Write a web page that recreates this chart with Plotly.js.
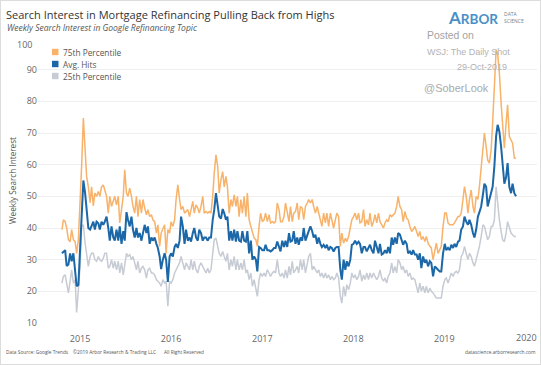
<!DOCTYPE html>
<html>
<head>
<meta charset="utf-8">
<script src="https://cdn.plot.ly/plotly-3.0.1.min.js"></script>
<style>
  html, body { margin: 0; padding: 0; background: #fff; }
  #wrap { position: relative; width: 541px; height: 365px; }
  #chart { width: 541px; height: 365px; }
  #frame { position: absolute; left: 0; top: 0; width: 539px; height: 363px; border: 1px solid #dcdcdc; pointer-events: none; }
</style>
</head>
<body>
<div id="wrap"><div id="chart"></div><div id="frame"></div></div>
<script>
// ---- Data ----
const firstWeek = '2014-10-20';
const lastWeek = '2019-10-16';

const avgHits = [
  32, 32.5, 33, 28, 28.5, 32, 29.5, 32, 26, 21.6,
  22, 34, 46, 55, 51, 44.7, 40, 39.5, 40.5, 42,
  39.5, 42, 41.5, 39.5, 42, 41, 42, 43.6, 40, 36,
  40.5, 37, 36, 39.5, 36, 40.5, 35, 39, 36, 45,
  42.6, 40.5, 43.6, 39.5, 37, 40, 37, 38.4, 36, 39,
  41, 38.4, 40.5, 35, 37, 36, 37, 35, 33.7, 31,
  27, 30, 32, 30, 23, 31, 32, 31, 34, 35,
  33.7, 36, 43.6, 40.5, 35, 39.5, 36, 37, 35.7, 38.4,
  40, 37, 36, 39.5, 38.4, 36, 37, 37, 36, 37,
  37, 42.6, 45.7, 51, 47, 43.6, 43, 46, 44.7, 42.6,
  43.6, 36, 39, 36, 39.5, 35.7, 39, 36, 35.7, 39,
  36, 35.7, 39, 32, 36, 30, 31, 30, 26.3, 34,
  33.7, 33, 33, 34.7, 33, 33, 32.6, 33, 33.7, 33.7,
  35.7, 33.7,
  32.6, 36, 34, 36, 34, 38.4, 35.7, 36, 39, 35,
  37, 34.7, 37, 36, 40, 36, 37.9, 39, 40.5, 39,
  37, 37.9, 35, 37, 35, 34, 34.7, 33.7, 34.7, 33,
  34, 33.7, 32.6, 33.7, 34, 34, 26.8, 23.7, 30, 26.8,
  29.5, 27.9, 30, 34.7, 35, 36, 35, 35.7, 35, 32,
  34, 34, 32.6, 33.7, 34.7, 33, 32, 36, 33.7, 32,
  35, 31.6, 32, 33, 32, 34, 32, 37, 34.7, 37,
  35, 38.4, 37.9, 36, 34.7, 36, 35, 32, 32.6, 31.6,
  33, 31.6, 31.6, 30, 32, 27.3, 31, 29, 30, 27.9,
  29.5, 29, 24.7, 27.9, 27.3, 26.8, 26.3, 26.3, 32, 35,
  33, 33.7, 33, 34.7, 33.7, 35, 34, 35.7, 36, 39.5,
  40.5, 43.6, 42, 41, 42.6, 41, 38.4, 37, 39.5, 43.6,
  45, 46.8, 50.5, 54, 53, 46.8, 49, 51, 53, 59.5,
  69, 72.6, 70.5, 65.7, 59.5, 54, 56, 60.5, 53, 51,
  54, 51, 50
];

const pct75 = [
  39.5, 42.6, 42, 40, 36.3, 35.7, 39.5, 36.3, 35.7, 32,
  36.3, 46.8, 59.5, 74.7, 64.7, 56.3, 53, 48, 53, 47,
  51, 50, 51.5, 50, 53, 53.6, 52, 50, 44.7, 50,
  46.8, 49, 50, 47.3, 50, 41.6, 46.3, 50, 58.4, 51,
  50, 52.6, 50, 46.8, 44.7, 50, 43.6, 49, 44.7, 49,
  46.3, 44.2, 45.8, 43.6, 44.2, 42.6, 42, 38.4, 41, 34.2,
  38.4, 39.5, 41, 32, 39.5, 38.4, 42, 40.5, 42.6, 49,
  53.6, 49, 45.8, 46.8, 44.7, 45.2, 45.8, 43.6, 45.8, 48.4,
  44.7, 47.3, 46.3, 44.7, 46.8, 50, 44.7, 45.2, 44.7, 45.2,
  44.7, 50, 57.3, 63.1, 59.4, 51, 55.2, 57.8, 53, 56.3,
  53, 44.7, 49, 46.8, 50.5, 46.8, 50, 43.6, 49, 44.7,
  50, 43.6, 51, 42.6, 40.5, 38.4, 36.8, 36.3, 34.2, 40.5,
  44.7, 42, 42.6, 44.7, 42, 44.2, 41.6, 42, 41.6, 42,
  47.9, 45.8,
  42, 42, 43.6, 47.9, 44.7, 42, 46.8, 42, 44.7, 45.2,
  47.9, 42.6, 46.8, 46.3, 42.6, 46.8, 47.9, 49, 47.9, 49,
  46.8, 44.7, 46.8, 44.7, 42, 40.5, 44.7, 41.6, 44.7, 40.5,
  44.7, 42, 40, 42.6, 44.7, 43.6, 34.2, 38.4, 35.2, 36.8,
  35.7, 37.3, 40.5, 42.6, 43.6, 44.7, 42.6, 44.7, 41.6, 42,
  45.8, 40.5, 42.6, 41, 44.7, 40.5, 42, 44.2, 41.6, 44.7,
  42, 41, 40, 41.6, 42.6, 42, 44.2, 43.6, 44.2, 44.7,
  46.8, 50, 46.8, 45.8, 42, 45.2, 43.1, 42.6, 40.5, 38.9,
  39.5, 40.5, 38.9, 37.3, 38.9, 36.3, 37.3, 35.7, 37.3, 35.2,
  34.2, 33.7, 30, 33.1, 35.2, 32, 33.1, 34.2, 40.5, 44.7,
  44.7, 41.6, 41, 41, 41, 41.6, 42.6, 43.6, 43.6, 44.7,
  49, 53.1, 50, 44.7, 49, 52, 46.8, 44.7, 50, 49,
  53.1, 58.4, 63.6, 70, 65.7, 61.5, 60.5, 64.7, 73.1, 85.7,
  96.2, 95.2, 88.9, 79.4, 72, 65.2, 73.1, 78.9, 68.9, 67.8,
  66.8, 62.1, 62.1
];

const pct25 = [
  22.6, 24.7, 25.2, 22.6, 19.5, 23.2, 26.8, 22.6, 23.7, 13.3,
  20, 27.9, 40.5, 41, 35.2, 31.6, 27.9, 31, 32, 32,
  30, 29.5, 31, 30, 29.5, 30.5, 32, 32, 27.3, 27.9,
  30, 27.3, 29.5, 26.8, 29.5, 25.8, 29, 25.2, 27.9, 32,
  31, 31.6, 30, 31, 29, 26.8, 29.5, 25.8, 27.3, 27.9,
  26.8, 24.2, 26.8, 27.3, 25.8, 25.8, 25.2, 23.7, 23.2, 22.6,
  21.6, 23.7, 22.6, 23.2, 15.3, 23.2, 22.6, 23.7, 25.8, 26.8,
  27.9, 29, 31, 29, 26.8, 29, 27.9, 26.8, 30, 26.8,
  29.5, 26.8, 25.8, 27.9, 29, 27.9, 26.8, 25.8, 27.3, 25.8,
  26.8, 31, 36.3, 36.8, 34.2, 32, 31, 32.6, 31, 29.5,
  32, 26.8, 30, 27.9, 31, 26.8, 30, 26.8, 29, 26.8,
  30, 25.8, 26.8, 23.7, 25.8, 21.6, 23.7, 20.5, 18.4, 23.7,
  25.8, 24.7, 25.8, 24.7, 26.8, 25.8, 24.7, 25.8, 26.3, 25.8,
  30, 25.8,
  24.7, 25.8, 24.2, 26.8, 24.2, 27.9, 25.2, 29.5, 25.8, 26.8,
  27.9, 25.8, 30, 26.8, 30, 25.8, 29, 31, 32, 26.8,
  27.9, 26.8, 25.8, 26.8, 24.7, 25.8, 24.2, 25.8, 24.2, 25.2,
  23.7, 24.7, 23.7, 24.2, 25.8, 24.2, 18.4, 16.3, 21.6, 18.4,
  22.1, 20.5, 22.6, 25.8, 24.2, 25.2, 23.7, 24.7, 26.8, 23.2,
  25.2, 23.7, 25.8, 23.7, 25.8, 24.2, 25.8, 24.7, 23.7, 24.7,
  26.8, 24.2, 23.2, 24.2, 22.6, 24.7, 25.8, 29, 25.8, 27.9,
  25.8, 30, 29, 26.8, 27.9, 25.8, 26.8, 24.7, 25.8, 23.7,
  24.2, 23.7, 21.6, 19.5, 22.6, 20, 21.6, 19.5, 21.6, 19.5,
  21, 20, 19.5, 18.4, 17.9, 17.9, 17.9, 17.9, 21.6, 23.7,
  24.2, 22.6, 24.2, 25.8, 24.7, 25.8, 26.3, 25.8, 26.8, 31,
  32, 34.2, 32, 30, 32, 31, 29, 27.9, 30, 32,
  34.2, 37.3, 41, 40.5, 38.4, 36.3, 37.3, 40.5, 40.5, 42.6,
  53, 48, 42.6, 38.9, 36.3, 35.7, 38.4, 42, 40.5, 38.4,
  37.9, 37.3, 37.3
];

const seriesNames = ['75th Percentile', 'Avg. Hits', '25th Percentile'];
const yearTickVals = ['2015-01-01', '2016-01-01', '2017-01-01', '2018-01-01', '2019-01-01'];
const yearTickText = ['2015', '2016', '2017', '2018', '2019'];
const lastYearLabel = '2020';
const yTickVals = [10, 20, 30, 40, 50, 60, 70, 80, 90, 100];
const yTickText = ['10', '20', '30', '40', '50', '60', '70', '80', '90', ''];
const topTickLabel = '100';

// ---- Build the x dates (sample periods evenly between first and last observation) ----
function periodDates(n) {
  const t0 = Date.parse(firstWeek), t1 = Date.parse(lastWeek);
  const out = [];
  for (let i = 0; i < n; i++) {
    const t = t0 + (t1 - t0) * i / (n - 1);
    out.push(new Date(t).toISOString().slice(0, 10));
  }
  return out;
}

// ---- Layout helpers (pixel -> paper) ----
const L = 38, T = 38, W = 499, H = 285;
const px = x => (x - L) / W;
const py = y => 1 - (y - T) / H;

const C_ORANGE = '#F8B269', C_BLUE = '#1B67A7', C_GRAY = '#C6CBD4';
const FONT = 'Open Sans, Noto Sans, sans-serif';
const ARIAL = 'Liberation Sans, Arial, sans-serif';

const traces = [
  { x: periodDates(pct25.length), y: pct25, name: seriesNames[2], type: 'scatter', mode: 'lines',
    line: { color: C_GRAY, width: 1.5 }, showlegend: false, hoverinfo: 'skip' },
  { x: periodDates(pct75.length), y: pct75, name: seriesNames[0], type: 'scatter', mode: 'lines',
    line: { color: C_ORANGE, width: 1.5 }, showlegend: false, hoverinfo: 'skip' },
  { x: periodDates(avgHits.length), y: avgHits, name: seriesNames[1], type: 'scatter', mode: 'lines',
    line: { color: C_BLUE, width: 2 }, showlegend: false, hoverinfo: 'skip' }
];

function ann(text, x, y, opts) {
  return Object.assign({ text: text, x: px(x), y: py(y), xref: 'paper', yref: 'paper',
    showarrow: false, xanchor: 'left', yanchor: 'middle', borderpad: 0,
    font: { family: FONT, size: 9, color: '#555' } }, opts || {});
}

const legendColors = [C_ORANGE, C_BLUE, C_GRAY];
const legendY = [52, 64, 76];
const FOOT = { family: FONT, size: 4.8, color: '#555' };

const annotations = [
  ann('<i>Weekly Search Interest in Google Refinancing Topic</i>', 6, 27, { font: { family: FONT, size: 8.5, color: '#555' } }),
  ann('<b><span style="font-size:17px">A</span>RBOR</b>', 447, 17.5, { font: { family: 'Lato, Open Sans, sans-serif', size: 13.5, color: '#4A90C6' } }),
  ann('DATA', 502.5, 14.5, { font: { family: FONT, size: 5, color: '#6F7F90' } }),
  ann('SCIENCE', 502.5, 21, { font: { family: FONT, size: 5, color: '#6F7F90' } }),
  ann('Posted on', 425.5, 35.5, { font: { family: ARIAL, size: 10.4, color: '#A3A3A3' } }),
  ann('WSJ: The Daily Shot', 425.5, 52, { font: { family: ARIAL, size: 9, color: '#B3B3B3' } }),
  ann('29-Oct-2019', 508, 67, { xanchor: 'right', font: { family: ARIAL, size: 9, color: '#B3B3B3' } }),
  ann('@SoberLook', 423, 87.5, { font: { family: ARIAL, size: 11, color: '#ABABAB' } }),
  ann('Weekly Search Interest', 12, 181, { xanchor: 'center', textangle: -90, font: { family: FONT, size: 8.2, color: '#555' } }),
  ann(topTickLabel, 33, 45, { xanchor: 'right', font: { family: FONT, size: 9, color: '#666' } }),
  ann(lastYearLabel, 538, 337, { xanchor: 'right', font: { family: FONT, size: 9, color: '#666' } }),
  ann('Data Source: Google Trends', 5, 352, { font: FOOT }),
  ann('\u00A92019 Arbor Research &amp; Trading LLC', 72, 352, { font: FOOT }),
  ann('All Right Reserved', 163, 352, { font: FOOT }),
  ann('datascience.arborresearch.com', 537, 352, { xanchor: 'right', font: FOOT })
];
seriesNames.forEach((n, i) => {
  annotations.push(ann(n, 61.5, legendY[i], { font: { family: FONT, size: 8.3, color: '#555' } }));
});

const shapes = seriesNames.map((n, i) => ({
  type: 'rect', xref: 'paper', yref: 'paper',
  x0: px(52), x1: px(58.5), y0: py(legendY[i] + 3.2), y1: py(legendY[i] - 3.2),
  fillcolor: legendColors[i], line: { width: 0 }
}));

const layout = {
  width: 541, height: 365,
  margin: { l: L, r: 541 - L - W, t: T, b: 365 - T - H, pad: 0 },
  paper_bgcolor: '#fff', plot_bgcolor: '#fff',
  title: { text: 'Search Interest in Mortgage Refinancing Pulling Back from Highs',
    x: 6 / 541, xref: 'container', xanchor: 'left', y: 1 - 15.5 / 365, yref: 'container', yanchor: 'middle',
    font: { family: FONT, size: 11, color: '#333' } },
  xaxis: { type: 'date', range: ['2014-07-16', '2020-01-08'], tickvals: yearTickVals, ticktext: yearTickText,
    showgrid: false, zeroline: false, showline: false, ticks: '', ticklabelstandoff: 9,
    tickfont: { family: FONT, size: 9, color: '#666' }, fixedrange: true },
  yaxis: { range: [10, 100], tickvals: yTickVals, ticktext: yTickText, showgrid: true, gridcolor: '#EFEFEF', gridwidth: 1,
    zeroline: false, showline: false, ticks: '', tickfont: { family: FONT, size: 9, color: '#666' }, fixedrange: true },
  showlegend: false,
  annotations: annotations,
  shapes: shapes
};

Plotly.newPlot('chart', traces, layout, { displayModeBar: false, staticPlot: true });
</script>
</body>
</html>
